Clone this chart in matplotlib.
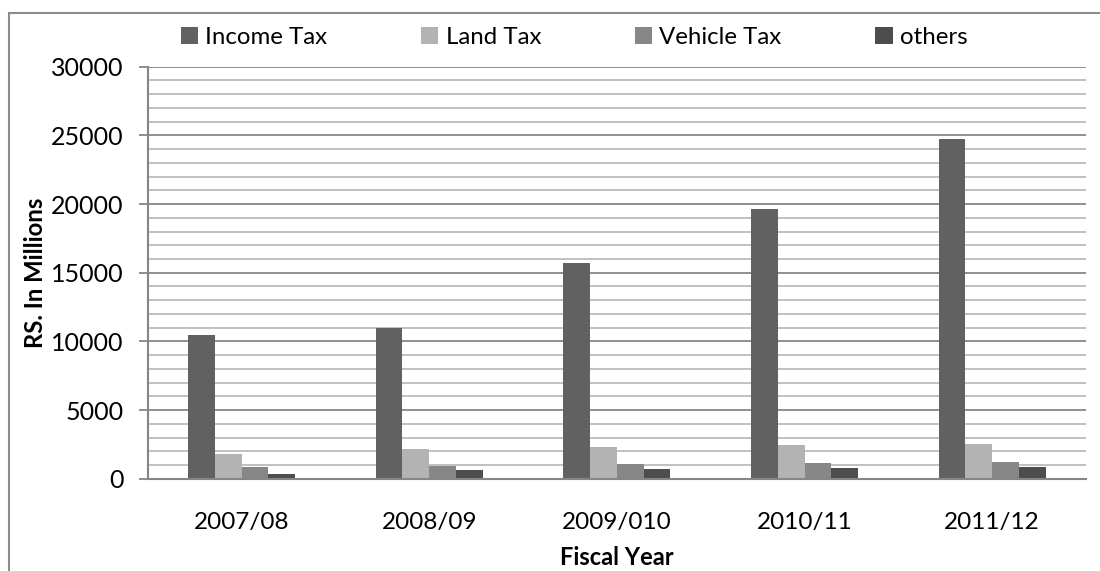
import numpy as np
import matplotlib
matplotlib.use('Agg')
import matplotlib.pyplot as plt
from matplotlib.patches import Rectangle
from matplotlib.ticker import MultipleLocator

# data
years = ['2007/08', '2008/09', '2009/010', '2010/11', '2011/12']
income_tax = [10460, 10990, 15700, 19640, 24700]
land_tax = [1820, 2200, 2330, 2470, 2550]
vehicle_tax = [870, 900, 1040, 1140, 1240]
others = [360, 600, 730, 750, 850]

series = [('Income Tax', income_tax, '#616161'),
          ('Land Tax', land_tax, '#b3b3b3'),
          ('Vehicle Tax', vehicle_tax, '#878787'),
          ('others', others, '#4d4d4d')]

plt.rcParams['font.family'] = ['Lato', 'DejaVu Sans']

fig = plt.figure(figsize=(11, 5.71), dpi=100)
ax = fig.add_axes([0.1343, 0.1616, 0.853, 0.7216])

x = np.arange(len(years))
w = 1 / 7
for i, (name, vals, color) in enumerate(series):
    ax.bar(x + (i - 1.5) * w, vals, width=w, color=color, label=name, zorder=3)

ax.set_xlim(-0.5, len(years) - 0.5)
ax.set_ylim(0, 30000)
ax.yaxis.set_major_locator(MultipleLocator(5000))
ax.yaxis.set_minor_locator(MultipleLocator(1000))
ax.grid(which='major', axis='y', color='#878787', lw=1.3, zorder=1)
ax.grid(which='minor', axis='y', color='#bcbcbc', lw=1.3, zorder=1)

for s in ['top', 'right']:
    ax.spines[s].set_visible(False)
for s in ['left', 'bottom']:
    ax.spines[s].set_color('#868686')
    ax.spines[s].set_linewidth(1.5)
    ax.spines[s].set_zorder(4)

ax.set_xticks(x)
ax.set_xticklabels(years)
ax.tick_params(axis='x', length=0, pad=24, labelsize=17.5)
ax.tick_params(axis='y', which='major', length=6.5, width=1.3, color='#868686',
               pad=11, labelsize=18)
ax.tick_params(axis='y', which='minor', length=0)

ax.set_xlabel('Fiscal Year', fontsize=17, fontweight='bold', labelpad=9)
ax.set_ylabel('RS. In Millions', fontsize=17.2, fontweight='bold', labelpad=3)

fig.legend(loc='center', bbox_to_anchor=(0.522, 0.935), ncol=4, frameon=False,
           fontsize=17.3, handlelength=0.72, handleheight=0.72, handletextpad=0.3,
           columnspacing=3.9)

# outer chart border
fig.patches.append(Rectangle((9 / 1100, -0.05), 1.2, (571 - 13) / 571 + 0.05,
                             transform=fig.transFigure, fill=False,
                             edgecolor='#8c8c8c', lw=1.5))

fig.savefig('out.png', dpi=100)
